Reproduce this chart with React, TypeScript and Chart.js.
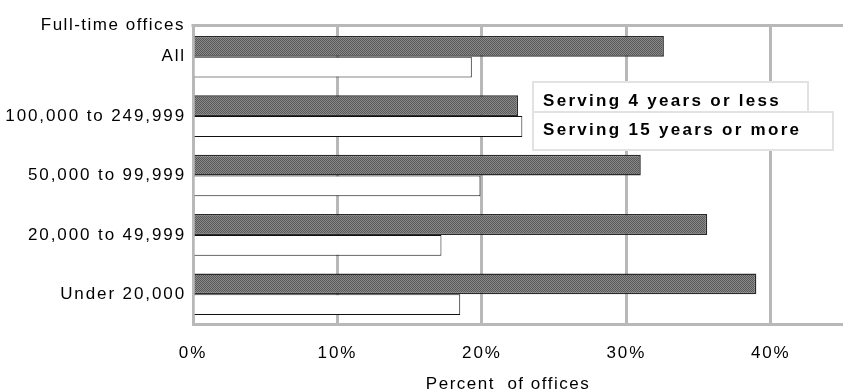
import React, { useEffect, useRef } from 'react';
import { Chart, registerables } from 'chart.js';

Chart.register(...registerables);

// ---- data ----
const categories = ['All', '100,000 to 249,999', '50,000 to 99,999', '20,000 to 49,999', 'Under 20,000'];
const serving4OrLess = [32.6, 22.5, 31.0, 35.6, 39.0];
const serving15OrMore = [19.3, 22.8, 19.9, 17.2, 18.5];
const seriesLabels = ['Serving 4 years or less', 'Serving 15 years or more'];
const xTickValues = [0, 10, 20, 30, 40];
const yHeader = 'Full-time offices';
const xTitle = 'Percent  of offices';
const topTitle = 'population served (2001)';

const FONT = '"Liberation Sans", Arial, Helvetica, sans-serif';
const GRID = '#b8b8b8';

function makePattern(ctx: CanvasRenderingContext2D): CanvasPattern | string {
  const c = document.createElement('canvas');
  c.width = 2;
  c.height = 2;
  const g = c.getContext('2d');
  if (!g) return '#707070';
  g.fillStyle = '#8a8a8a';
  g.fillRect(0, 0, 2, 2);
  g.fillStyle = '#585858';
  g.fillRect(0, 0, 1, 1);
  g.fillRect(1, 1, 1, 1);
  return ctx.createPattern(c, 'repeat') || '#707070';
}

const decorPlugin = {
  id: 'decor',
  beforeLayout(chart: any) {
    chart.ctx.letterSpacing = '1.9px';
  },
  beforeDraw(chart: any) {
    chart.ctx.letterSpacing = '1.9px';
  },
  afterDraw(chart: any) {
    const ctx: CanvasRenderingContext2D = chart.ctx;
    const a = chart.chartArea;
    ctx.save();
    // top frame line
    ctx.strokeStyle = GRID;
    ctx.lineWidth = 3;
    ctx.beginPath();
    ctx.moveTo(a.left - 1.5, a.top - 1.5);
    ctx.lineTo(a.right, a.top - 1.5);
    ctx.stroke();

    // clipped title (only descenders visible)
    (ctx as any).letterSpacing = '2.5px';
    ctx.fillStyle = '#000';
    ctx.font = `bold 20px ${FONT}`;
    ctx.textAlign = 'left';
    ctx.textBaseline = 'alphabetic';
    ctx.fillText(topTitle, 82, -7);

    // y header
    (ctx as any).letterSpacing = '1.5px';
    ctx.font = `17px ${FONT}`;
    ctx.textAlign = 'right';
    ctx.fillText(yHeader, 185, 30);

    // x axis title
    ctx.textAlign = 'center';
    ctx.fillText(xTitle, 508, 389);

    // legend boxes
    const boxes = [
      { x: 533, y: 82, w: 275, h: 30, base: 106 },
      { x: 533, y: 112, w: 300, h: 38, base: 135 },
    ];
    boxes.forEach((b, i) => {
      ctx.fillStyle = '#fff';
      ctx.fillRect(b.x, b.y, b.w, b.h);
      ctx.strokeStyle = '#e2e2e2';
      ctx.lineWidth = 2;
      ctx.strokeRect(b.x, b.y, b.w, b.h);
      (ctx as any).letterSpacing = '2.3px';
      ctx.fillStyle = '#000';
      ctx.font = `bold 17px ${FONT}`;
      ctx.textAlign = 'left';
      ctx.fillText(seriesLabels[i], b.x + 10, b.base);
    });
    ctx.restore();
  },
};

export default function App() {
  const ref = useRef<HTMLCanvasElement | null>(null);

  useEffect(() => {
    const canvas = ref.current;
    if (!canvas) return;
    const ctx = canvas.getContext('2d');
    if (!ctx) return;
    const pattern = makePattern(ctx);
    const chart = new Chart(canvas, {
      type: 'bar',
      data: {
        labels: categories,
        datasets: [
          {
            label: seriesLabels[0],
            data: serving4OrLess,
            backgroundColor: pattern as any,
            borderColor: '#2a2a2a',
            borderWidth: 1.5,
            categoryPercentage: 0.7,
            barPercentage: 1,
          },
          {
            label: seriesLabels[1],
            data: serving15OrMore,
            backgroundColor: '#ffffff',
            borderColor: '#111111',
            borderWidth: 1,
            categoryPercentage: 0.7,
            barPercentage: 1,
          },
        ],
      },
      options: {
        animation: false,
        responsive: false,
        devicePixelRatio: 1,
        indexAxis: 'y',
        layout: { padding: { top: 27, right: -3, left: 0, bottom: 0 } },
        plugins: {
          legend: { display: false },
          tooltip: { enabled: false },
          title: { display: false },
        },
        scales: {
          x: {
            type: 'linear',
            position: 'bottom',
            min: 0,
            max: 45,
            afterBuildTicks: (s: any) => {
              s.ticks = xTickValues.map((v) => ({ value: v }));
            },
            afterFit: (s: any) => {
              s.height = 68;
            },
            grid: { color: GRID, lineWidth: 3, drawTicks: false },
            border: { color: GRID, width: 3 },
            ticks: {
              padding: 19,
              color: '#000',
              font: { family: FONT, size: 17 },
              callback: (v: any) => `${v}%`,
            },
          },
          y: {
            type: 'category',
            afterFit: (s: any) => {
              s.width = 193;
            },
            grid: { display: false, drawTicks: false },
            border: { color: GRID, width: 3 },
            ticks: {
              padding: 7,
              color: '#000',
              font: { family: FONT, size: 17 },
            },
          },
        },
      },
      plugins: [decorPlugin],
    } as any);
    return () => chart.destroy();
  }, []);

  return (
    <div style={{ position: 'absolute', left: 0, top: 0, width: 843, height: 392, background: '#fff' }}>
      <canvas ref={ref} width={843} height={392} />
    </div>
  );
}
